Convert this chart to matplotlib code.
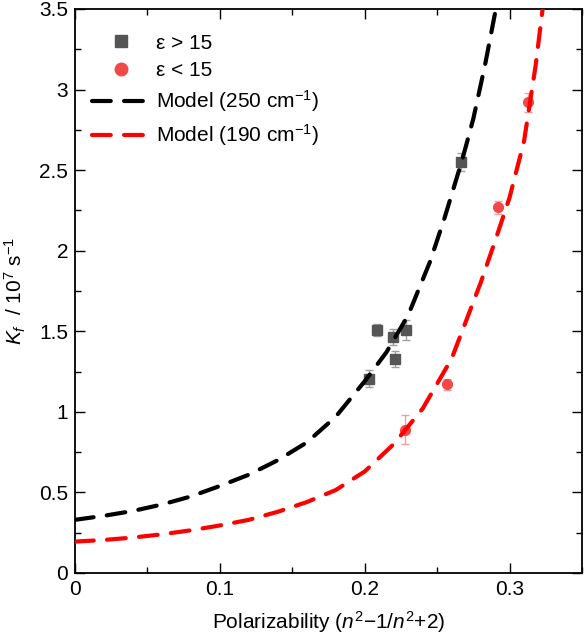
import matplotlib
matplotlib.use("Agg")
import matplotlib.pyplot as plt
from matplotlib.ticker import MultipleLocator
from matplotlib.lines import Line2D

plt.rcParams['font.family'] = ['Liberation Sans', 'DejaVu Sans']
plt.rcParams['mathtext.fontset'] = 'custom'
plt.rcParams['mathtext.rm'] = 'Liberation Sans'
plt.rcParams['mathtext.it'] = 'Liberation Sans:italic'

# data: eps > 15 (squares)
hi_x = [0.2028, 0.2083, 0.2194, 0.2207, 0.2286, 0.2665]
hi_y = [1.207, 1.508, 1.467, 1.328, 1.508, 2.552]
hi_err = [0.05, 0.04, 0.05, 0.05, 0.06, 0.055]

# data: eps < 15 (circles)
lo_x = [0.228, 0.257, 0.292, 0.3124]
lo_y = [0.89, 1.17, 2.27, 2.92]
lo_err = [0.09, 0.035, 0.04, 0.06]

# model curves
m250_x = [0, 0.02, 0.04, 0.06, 0.08, 0.10, 0.12, 0.14, 0.16, 0.18, 0.20,
          0.215, 0.23, 0.245, 0.255, 0.2675, 0.275, 0.283, 0.2916]
m250_y = [0.33, 0.355, 0.385, 0.425, 0.475, 0.54, 0.61, 0.70, 0.81, 0.97, 1.19,
          1.37, 1.60, 1.93, 2.20, 2.57, 2.82, 3.15, 3.55]
m190_x = [0, 0.02, 0.04, 0.06, 0.08, 0.10, 0.12, 0.14, 0.16, 0.18, 0.20,
          0.22, 0.24, 0.26, 0.28, 0.29, 0.30, 0.31, 0.318, 0.3235]
m190_y = [0.195, 0.205, 0.22, 0.24, 0.265, 0.295, 0.33, 0.38, 0.44, 0.515, 0.63,
          0.80, 1.02, 1.33, 1.80, 2.06, 2.33, 2.68, 3.15, 3.55]

SQ_COL = '#555555'
CI_COL = '#f24848'
FS = 15

fig = plt.figure(figsize=(5.84, 6.42), dpi=100)
ax = fig.add_axes([75/584, 69/642, 507/584, 564/642])

ax.errorbar(hi_x, hi_y, yerr=hi_err, fmt='s', color=SQ_COL, ms=6.5,
            ecolor='#a0a0a0', elinewidth=1, capsize=3, capthick=1, zorder=3)
ax.errorbar(lo_x, lo_y, yerr=lo_err, fmt='o', color=CI_COL, ms=7,
            ecolor='#f0a0a0', elinewidth=1, capsize=3, capthick=1, zorder=3)
ax.plot(m250_x, m250_y, color='black', lw=3, dashes=(4.5, 3.2),
        dash_capstyle='round', zorder=4)
ax.plot(m190_x, m190_y, color='#ff0000', lw=3, dashes=(4.5, 3.2),
        dash_capstyle='round', zorder=4)

ax.set_xlim(0, 0.35)
ax.set_ylim(0, 3.5)
ax.xaxis.set_minor_locator(MultipleLocator(0.05))
ax.yaxis.set_minor_locator(MultipleLocator(0.25))
ax.set_xticks([0, 0.1, 0.2, 0.3])
ax.set_xticklabels(['0', '0.1', '0.2', '0.3'])
ax.set_yticks([0, 0.5, 1, 1.5, 2, 2.5, 3, 3.5])
ax.set_yticklabels(['0', '0.5', '1', '1.5', '2', '2.5', '3', '3.5'])
ax.tick_params(which='both', direction='in', top=True, right=True,
               labelsize=FS, width=1)
ax.tick_params(which='major', length=7, pad=5)
ax.tick_params(which='minor', length=4.5)
for s in ax.spines.values():
    s.set_linewidth(1.3)

ax.set_xlabel(r'Polarizability ($n^2$$-$1/$n^2$+2)', fontsize=FS, labelpad=7)
ax.set_ylabel(r'$K_f$  / 10$^7$ s$^{-1}$', fontsize=FS, labelpad=8)

handles = [
    Line2D([], [], ls='none', marker='s', color=SQ_COL, ms=9),
    Line2D([], [], ls='none', marker='o', color=CI_COL, ms=9),
    Line2D([], [], color='black', lw=3, dashes=(4.5, 3.2), dash_capstyle='round'),
    Line2D([], [], color='#ff0000', lw=3, dashes=(4.5, 3.2), dash_capstyle='round'),
]
labels = ['ε > 15', 'ε < 15', r'Model (250 cm$^{-1}$)', r'Model (190 cm$^{-1}$)']
ax.legend(handles, labels, loc='upper left', bbox_to_anchor=(0.012, 0.975),
          frameon=False, fontsize=FS, handlelength=2.8, handletextpad=0.3,
          labelspacing=0.4, borderpad=0)

fig.savefig('out.png', dpi=100)
